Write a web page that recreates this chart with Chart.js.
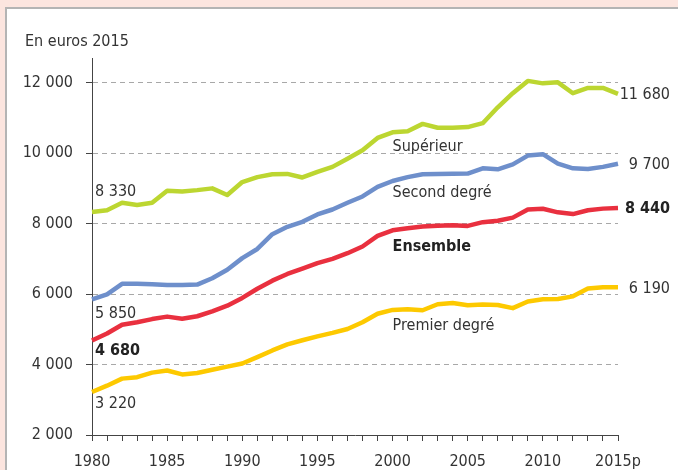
<!DOCTYPE html>
<html>
<head>
<meta charset="utf-8">
<script src="https://cdn.jsdelivr.net/npm/chart.js@4.4.1/dist/chart.umd.min.js"></script>
<style>
  html, body { margin: 0; padding: 0; background: #fce5df; width: 678px; height: 470px; overflow: hidden; }
  #panel { position: absolute; left: 5px; top: 7px; width: 700px; height: 500px; background: #fff;
           border-left: 2px solid #b4b4b4; border-top: 2px solid #b4b4b4; }
  #wrap { position: absolute; left: 0; top: 0; width: 678px; height: 470px; }
</style>
</head>
<body>
<div id="panel"></div>
<div id="wrap"><canvas id="chart" width="678" height="470"></canvas></div>
<script>
// donnees, en euros 2015
var annees = ["1980", "1981", "1982", "1983", "1984", "1985", "1986", "1987", "1988", "1989",
              "1990", "1991", "1992", "1993", "1994", "1995", "1996", "1997", "1998", "1999",
              "2000", "2001", "2002", "2003", "2004", "2005", "2006", "2007", "2008", "2009",
              "2010", "2011", "2012", "2013", "2014", "2015p"];

var superieur = [8330, 8380, 8590, 8530, 8590, 8930, 8910, 8950, 9000, 8810,
                 9180, 9320, 9400, 9410, 9310, 9470, 9610, 9840, 10080, 10430,
                 10590, 10620, 10830, 10720, 10720, 10740, 10850, 11300, 11700, 12050,
                 11980, 12010, 11700, 11850, 11850, 11680];

var secondDegre = [5850, 5990, 6290, 6290, 6280, 6260, 6260, 6270, 6450, 6690,
                   7020, 7280, 7700, 7910, 8050, 8260, 8400, 8590, 8770, 9040,
                   9210, 9320, 9400, 9410, 9415, 9420, 9570, 9540, 9680, 9930,
                   9970, 9700, 9570, 9550, 9610, 9700];

var ensemble = [4680, 4880, 5130, 5200, 5290, 5360, 5300, 5370, 5510, 5670,
                5890, 6150, 6380, 6570, 6720, 6880, 7000, 7160, 7350, 7650,
                7810, 7870, 7920, 7940, 7950, 7935, 8040, 8080, 8170, 8400,
                8420, 8320, 8270, 8380, 8425, 8440];

var premierDegre = [3220, 3400, 3600, 3640, 3770, 3830, 3720, 3760, 3850, 3940,
                    4030, 4210, 4400, 4570, 4690, 4800, 4900, 5010, 5200, 5440,
                    5550, 5570, 5540, 5710, 5745, 5680, 5705, 5690, 5600, 5790,
                    5850, 5860, 5935, 6160, 6195, 6190];

var yTicks = [2000, 4000, 6000, 8000, 10000, 12000];

var FAMILLE = "'DejaVu Sans Condensed', 'DejaVu Sans', sans-serif";
var TAILLE = 16;
var TEXTE = '#333333';

function fmt(v) {
  return String(v).replace(/\B(?=(\d{3})+(?!\d))/g, ' ');
}

// libelles des courbes, poses au niveau de l'annee 2000
var noms = [
  { texte: 'Supérieur', index: 20, valeur: 10190, gras: false },
  { texte: 'Second degré', index: 20, valeur: 8880, gras: false },
  { texte: 'Ensemble', index: 20, valeur: 7350, gras: true },
  { texte: 'Premier degré', index: 20, valeur: 5090, gras: false }
];

var textes = {
  id: 'textes',
  afterDraw: function(chart) {
    var ctx = chart.ctx;
    var x = chart.scales.x, y = chart.scales.y;
    var area = chart.chartArea;
    var last = annees.length - 1;

    function police(gras) {
      ctx.font = (gras ? 'bold ' : '') + TAILLE + 'px ' + FAMILLE;
      ctx.fillStyle = gras ? '#222' : TEXTE;
    }

    ctx.save();
    ctx.textBaseline = 'middle';
    ctx.textAlign = 'left';
    police(false);
    ctx.fillText('En euros 2015', 25, 42);

    noms.forEach(function(n) {
      police(n.gras);
      ctx.fillText(n.texte, x.getPixelForValue(n.index), y.getPixelForValue(n.valeur));
    });

    // valeurs de debut
    var debut = [
      { v: superieur[0], dy: -20, gras: false },
      { v: secondDegre[0], dy: 14, gras: false },
      { v: ensemble[0], dy: 10, gras: true },
      { v: premierDegre[0], dy: 12, gras: false }
    ];
    debut.forEach(function(d) {
      police(d.gras);
      ctx.fillText(fmt(d.v), area.left + 3, y.getPixelForValue(d.v) + d.dy);
    });

    // valeurs de fin
    ctx.textAlign = 'right';
    var fin = [
      { v: superieur[last], gras: false },
      { v: secondDegre[last], gras: false },
      { v: ensemble[last], gras: true },
      { v: premierDegre[last], gras: false }
    ];
    fin.forEach(function(d) {
      police(d.gras);
      ctx.fillText(fmt(d.v), 670, y.getPixelForValue(d.v) + 1);
    });
    ctx.restore();
  }
};

var chart = new Chart(document.getElementById('chart'), {
  type: 'line',
  data: {
    labels: annees,
    datasets: [
      { label: 'Supérieur', data: superieur, borderColor: '#bcd631' },
      { label: 'Second degré', data: secondDegre, borderColor: '#6e8fcb' },
      { label: 'Ensemble', data: ensemble, borderColor: '#e9303f' },
      { label: 'Premier degré', data: premierDegre, borderColor: '#fdc900' }
    ]
  },
  options: {
    responsive: false,
    animation: false,
    layout: { padding: { top: 58, right: 60, left: 0, bottom: 0 } },
    plugins: { legend: { display: false }, tooltip: { enabled: false } },
    elements: {
      point: { radius: 0 },
      line: { borderWidth: 4.5, tension: 0, fill: false, borderJoinStyle: 'round' }
    },
    scales: {
      x: {
        grid: { drawOnChartArea: false, drawTicks: true, tickLength: 6, color: '#444', tickColor: '#444' },
        border: { color: '#444', width: 1 },
        ticks: {
          autoSkip: false, maxRotation: 0, padding: 11, color: TEXTE,
          font: { family: FAMILLE, size: TAILLE },
          callback: function(v, i) { return i % 5 === 0 ? annees[i] : ''; }
        },
        afterFit: function(s) { s.height = 35; }
      },
      y: {
        min: 2000,
        max: 12700,
        afterBuildTicks: function(s) {
          s.ticks = yTicks.map(function(v) { return { value: v }; });
        },
        grid: {
          color: function(c) { return c.tick && c.tick.value === 2000 ? 'rgba(0,0,0,0)' : '#a8a8a8'; },
          tickColor: '#444', tickLength: 6, lineWidth: 1
        },
        border: { color: '#444', width: 1, dash: [5, 4] },
        ticks: {
          padding: 13, color: TEXTE,
          font: { family: FAMILLE, size: TAILLE },
          callback: function(v) { return fmt(v); }
        },
        afterFit: function(s) { s.width = 92; }
      }
    }
  },
  plugins: [textes]
});
</script>
</body>
</html>
